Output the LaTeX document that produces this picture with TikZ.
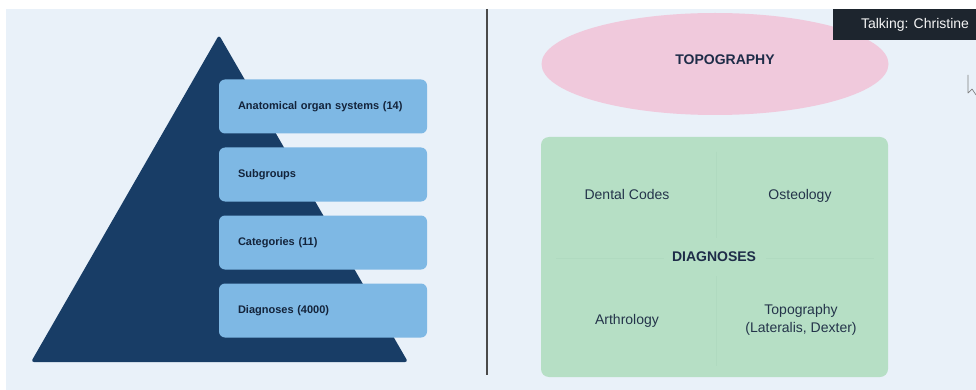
\documentclass[tikz,border=0pt]{standalone}
\usepackage{fontspec}
\setmainfont{Liberation Sans}
\usetikzlibrary{shapes.geometric}
\definecolor{bg}{HTML}{E9F1F9}
\definecolor{pyr}{HTML}{183D66}
\definecolor{lvlfill}{HTML}{7EB8E4}
\definecolor{lvltext}{HTML}{13233A}
\definecolor{pinkfill}{HTML}{F0C9DC}
\definecolor{greenfill}{HTML}{B6DFC5}
\definecolor{greenline}{HTML}{B0DAC0}
\definecolor{darktext}{HTML}{24344A}
\definecolor{navytext}{HTML}{1E2C48}
\definecolor{talkfill}{HTML}{1D252E}
\definecolor{divider}{HTML}{4A4A4A}
\tikzset{
  lvl/.style={fill=lvlfill, rounded corners=6pt, minimum width=208pt, minimum height=54pt,
    text width=170pt, inner xsep=19pt, align=left, text=lvltext,
    font=\fontsize{11}{13}\selectfont\bfseries},
  quad/.style={text=darktext, align=center, anchor=base, font=\fontsize{14}{17}\selectfont},
  heading/.style={text=navytext, font=\fontsize{14}{17}\selectfont\bfseries},
}
\begin{document}
\begin{tikzpicture}[x=1pt,y=-1pt]
\useasboundingbox (0,0) rectangle (976,390);
\fill[white] (0,0) rectangle (976,390);
\fill[bg] (6,9) rectangle (976,390);
% pyramid
\coordinate (apex) at (219,35);
\coordinate (bl) at (31,362);
\coordinate (br) at (408,362);
\fill[pyr, rounded corners=3pt] (apex) -- (br) -- (bl) -- cycle;
% level boxes
\node[lvl] (b1) at (323,106.5) {Anatomical organ systems (14)};
\node[lvl] (b2) at (323,174.5) {Subgroups};
\node[lvl] (b3) at (323,242.5) {Categories (11)};
\node[lvl] (b4) at (323,310.5) {Diagnoses (4000)};
% divider
\coordinate (dtop) at (487,9);
\coordinate (dbot) at (487,375);
\draw[divider, line width=1.1pt] (dtop) -- (dbot);
% ellipse
\node[ellipse, fill=pinkfill, minimum width=347pt, minimum height=102pt] (topo) at (715,64) {};
\node[heading] (topotext) at (725,60) {TOPOGRAPHY};
% green matrix
\node[fill=greenfill, rounded corners=8pt, minimum width=347pt, minimum height=240pt] (diag) at (714.5,257) {};
\coordinate (v1) at (716,152);
\coordinate (v2) at (716,238);
\coordinate (v3) at (716,276);
\coordinate (v4) at (716,366);
\coordinate (h1) at (556,258);
\coordinate (h2) at (664,258);
\coordinate (h3) at (766,258);
\coordinate (h4) at (874,258);
\draw[greenline, line width=0.8pt] (v1) -- (v2) (v3) -- (v4) (h1) -- (h2) (h3) -- (h4);
\node[quad] (dental) at (627,200) {Dental Codes};
\node[quad] (osteo) at (800,200) {Osteology};
\node[heading] (diagtext) at (714,257) {DIAGNOSES};
\node[quad] (arthro) at (627,324) {Arthrology};
\node[quad, anchor=center, font=\fontsize{14}{18}\selectfont] (topog) at (801,320) {Topography\\(Lateralis, Dexter)};
% talking box
\node[fill=talkfill, minimum width=143pt, minimum height=31pt, inner sep=0pt] (talk) at (904.5,24.5) {};
\node[text=white!92!gray, font=\fontsize{14}{16}\selectfont] (talktext) at (915,25) {Talking: Christine};
% cursor
\draw[gray, line width=0.7pt, line join=round] (968,75) -- (968,93) -- (972,89) -- (976,95);
\end{tikzpicture}
\end{document}
